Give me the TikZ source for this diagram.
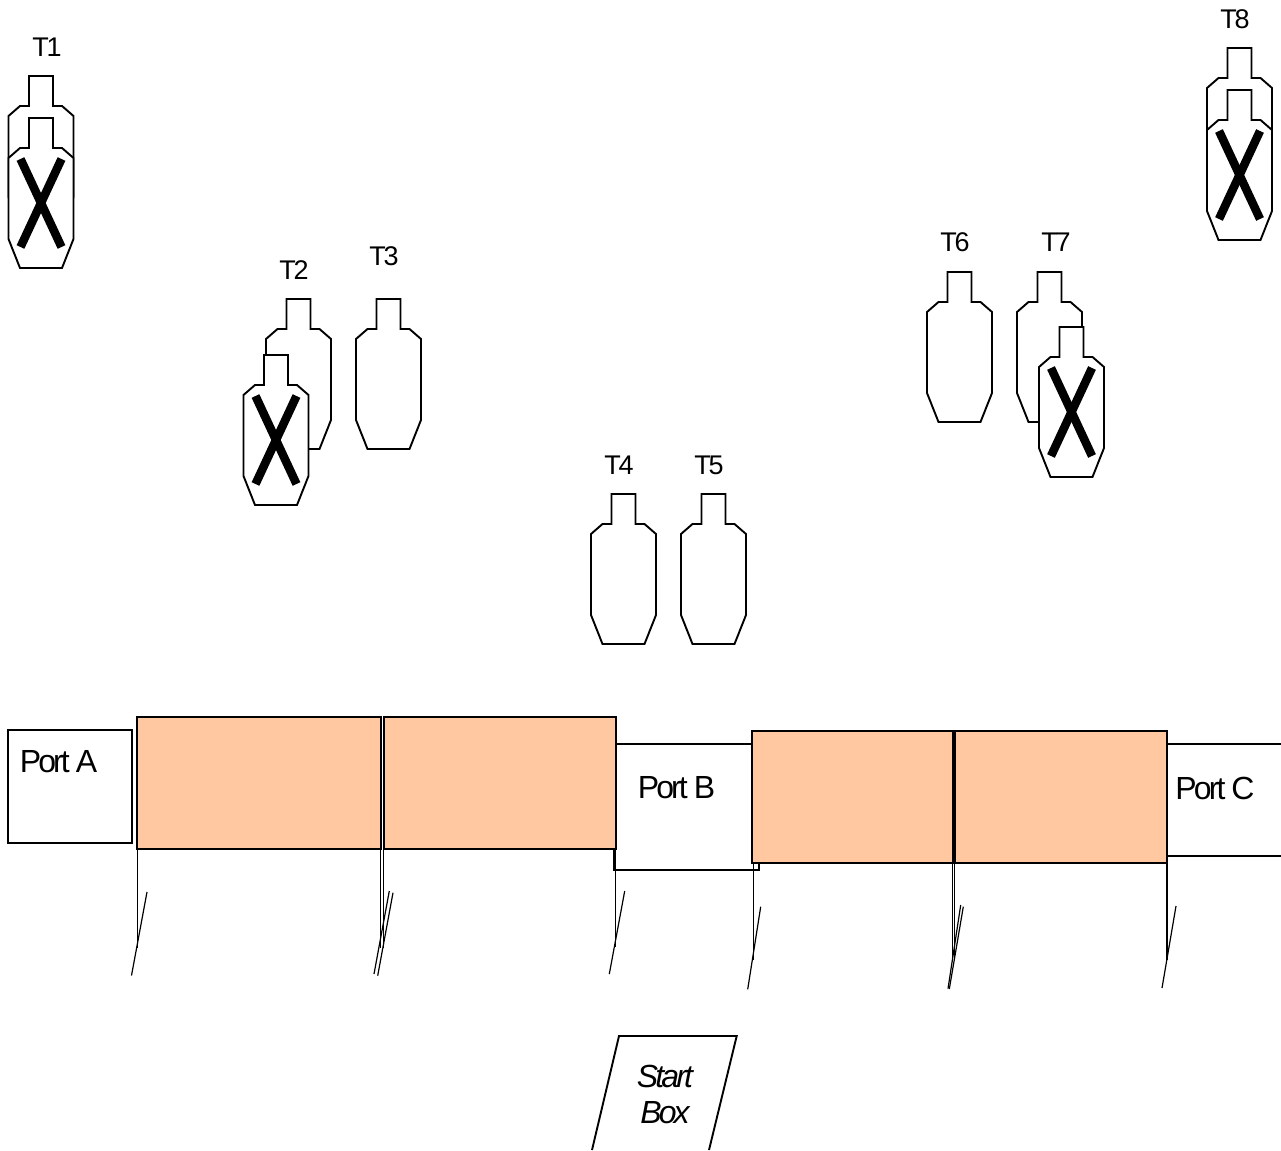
\documentclass[tikz,border=0pt]{standalone}
\usepackage{fontspec}
\setmainfont[LetterSpace=-9]{Liberation Sans}
\definecolor{padorange}{HTML}{FFC8A0}
\tikzset{
  outline/.style={draw=black,line width=1.9pt,fill=white,line join=miter},
  boxline/.style={draw=black,line width=2pt},
  pad/.style={draw=black,line width=2pt,fill=padorange},
  thin tick/.style={draw=black,line width=1.2pt},
  tlabel/.style={inner sep=0pt,font=\fontsize{27}{27}\selectfont},
  portlabel/.style={inner sep=0pt,font=\fontsize{32}{32}\selectfont},
  startlabel/.style={inner sep=0pt,font=\fontsize{32}{32}\selectfont\itshape},
  pics/target/.style={code={
    \draw [outline] (-12,0) -- (12,0) -- (12,30) -- (21,30) -- (32.5,40) -- (32.5,121)
      -- (21,150) -- (-21,150) -- (-32.5,121) -- (-32.5,40) -- (-21,30) -- (-12,30) -- cycle;
  }},
  pics/hit/.style={code={
    \draw [outline] (-12,0) -- (12,0) -- (12,30) -- (21,30) -- (32.5,40) -- (32.5,121)
      -- (21,150) -- (-21,150) -- (-32.5,121) -- (-32.5,40) -- (-21,30) -- (-12,30) -- cycle;
    \draw [black,line width=8.5pt] (-20.5,41) -- (20.5,129);
    \draw [black,line width=8.5pt] (20.5,41) -- (-20.5,129);
  }}
}
\begin{document}
\begin{tikzpicture}[x=1pt,y=-1pt]
	\useasboundingbox (0,0) rectangle (1281,1150);
	% targets
	\pic at (41,76) {target};
	\pic at (41,118) {hit};
	\pic at (298.5,299) {target};
	\pic at (276,355) {hit};
	\pic at (388.5,299) {target};
	\pic at (623.5,494) {target};
	\pic at (713.5,494) {target};
	\pic at (959.5,272) {target};
	\pic at (1049.5,272) {target};
	\pic at (1071.5,327) {hit};
	\pic at (1239.5,48) {target};
	\pic at (1239.5,90) {hit};
	\node [tlabel] (t1) at (47,47) {T1};
	\node [tlabel] (t2) at (294,270) {T2};
	\node [tlabel] (t3) at (384,256) {T3};
	\node [tlabel] (t4) at (619,465) {T4};
	\node [tlabel] (t5) at (709,465) {T5};
	\node [tlabel] (t6) at (955,242) {T6};
	\node [tlabel] (t7) at (1056,242) {T7};
	\node [tlabel] (t8) at (1235,19) {T8};
	% ports
	\draw [boxline] (8,730) rectangle (132,843);
	\draw [boxline] (614,744) rectangle (759,870);
	\draw [boxline] (1281,744) -- (1160,744);
	\draw [boxline] (1281,856) -- (1160,856);
	\node [portlabel] (porta) at (58.5,762) {Port A};
	\node [portlabel] (portb) at (676.5,788) {Port B};
	\node [portlabel] (portc) at (1215,788) {Port C};
	% pads
	\draw [pad] (137,717) rectangle (380.5,849);
	\draw [pad] (384,717) rectangle (616,849);
	\draw [pad] (752,731) rectangle (953,863);
	\draw [pad] (955,731) rectangle (1167,863);
	% ticks
	\draw [thin tick] (137.7,849) -- (137.7,948);
	\draw [thin tick] (147,892) -- (131.5,975.5);
	\draw [thin tick] (380.3,849) -- (380.3,948);
	\draw [thin tick] (389.3,891) -- (374,974);
	\draw [thin tick] (383.7,849) -- (383.7,948);
	\draw [thin tick] (393,892.7) -- (377.7,975.7);
	\draw [thin tick] (615.3,849) -- (615.3,947);
	\draw [thin tick] (624.7,891) -- (609.3,974);
	\draw [thin tick] (753.3,863) -- (753.3,960);
	\draw [thin tick] (760.7,906.7) -- (747.7,989.3);
	\draw [thin tick] (952.7,863) -- (952.7,960);
	\draw [thin tick] (960.7,905) -- (948,988.7);
	\draw [thin tick] (954.7,863) -- (954.7,960);
	\draw [thin tick] (963.3,906.7) -- (949.3,989);
	\draw [thin tick] (1167,863) -- (1167,960);
	\draw [thin tick] (1176,906) -- (1162,988);
	% start box
	\draw [outline,fill=none] (592,1150) -- (619,1036) -- (736.7,1036) -- (709,1150);
	\node [startlabel] (start) at (665,1076) {Start};
	\node [startlabel] (box) at (665,1113) {Box};
\end{tikzpicture}
\end{document}
